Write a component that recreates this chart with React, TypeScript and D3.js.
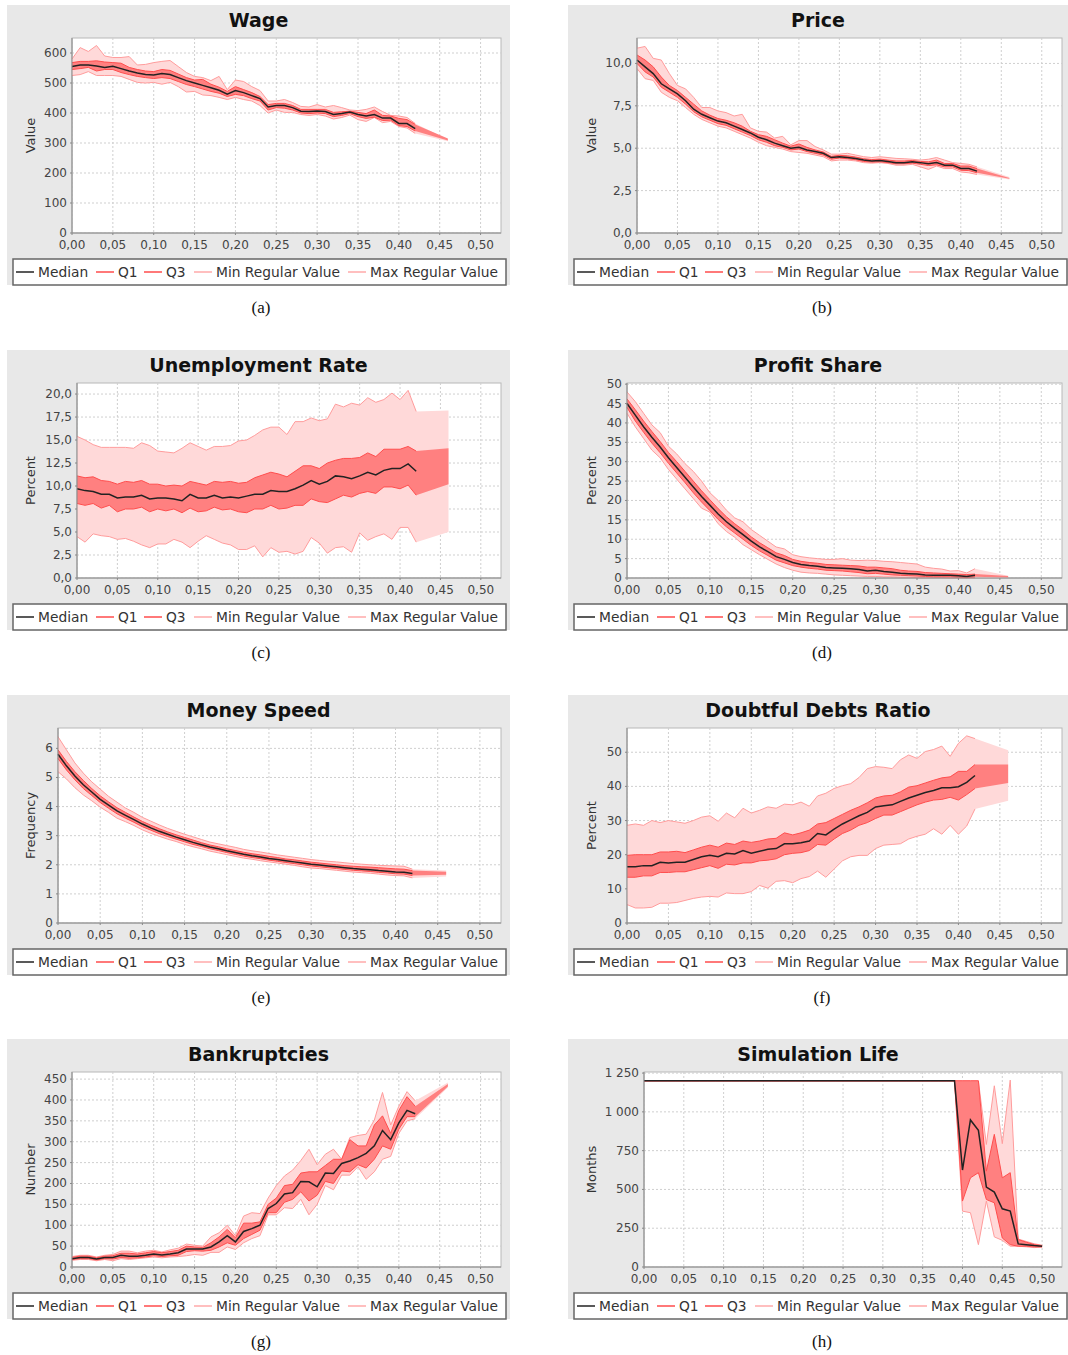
import React from 'react';
import * as d3 from 'd3';

// x positions (parameter values) of the simulation runs
const X_STEPS = [
  0, 0.01, 0.02, 0.03, 0.04, 0.05, 0.06, 0.07, 0.08, 0.09,
  0.1, 0.11, 0.12, 0.13, 0.14, 0.15, 0.16, 0.17, 0.18, 0.19,
  0.2, 0.21, 0.22, 0.23, 0.24, 0.25, 0.26, 0.27, 0.28, 0.29,
  0.3, 0.31, 0.32, 0.33, 0.34, 0.35, 0.36, 0.37, 0.38, 0.39,
  0.4, 0.41, 0.42,
];
const X_BAND = [...X_STEPS, 0.46];
const X_LIFE = [...X_STEPS, 0.43, 0.44, 0.45, 0.46, 0.47, 0.48, 0.49, 0.5];
const X_TICKS = [0, 0.05, 0.1, 0.15, 0.2, 0.25, 0.3, 0.35, 0.4, 0.45, 0.5];
const LEGEND_ITEMS = ['Median', 'Q1', 'Q3', 'Min Regular Value', 'Max Regular Value'];

// (a) Wage
const wageMedian = [555, 560, 560, 557, 552, 556, 548, 540, 533, 528, 527, 532, 528, 518, 508, 500, 492, 484, 476, 463, 475, 468, 458, 448, 420, 425, 425, 418, 406, 405, 407, 405, 395, 398, 403, 395, 390, 395, 383, 383, 365, 365, 348];
const wageQ3 = [568, 572, 572, 574, 570, 568, 566, 552, 545, 540, 538, 545, 542, 530, 518, 510, 512, 496, 486, 472, 488, 478, 468, 455, 428, 432, 432, 425, 412, 412, 412, 412, 402, 404, 406, 402, 398, 410, 392, 390, 382, 378, 362, 315];
const wageQ1 = [545, 548, 552, 540, 545, 545, 535, 528, 522, 518, 515, 518, 515, 505, 495, 488, 480, 472, 466, 455, 462, 458, 448, 440, 410, 418, 416, 410, 400, 398, 400, 398, 388, 392, 398, 388, 382, 386, 375, 376, 358, 355, 340, 308];
const wageMax = [580, 618, 605, 625, 590, 585, 585, 588, 560, 562, 568, 572, 575, 555, 535, 522, 518, 508, 522, 478, 510, 505, 488, 475, 440, 440, 445, 435, 422, 420, 428, 420, 425, 418, 410, 408, 412, 420, 405, 392, 390, 385, 365, 312];
const wageMin = [525, 528, 538, 525, 525, 525, 522, 512, 502, 500, 502, 496, 502, 488, 470, 472, 460, 458, 452, 445, 452, 445, 440, 425, 400, 410, 402, 402, 395, 392, 395, 390, 380, 385, 393, 378, 372, 385, 368, 372, 355, 350, 332, 306];
const wageTicks = [0, 100, 200, 300, 400, 500, 600];

// (b) Price
const priceMedian = [10.2, 9.8, 9.4, 8.8, 8.5, 8.2, 7.8, 7.3, 7.0, 6.8, 6.6, 6.5, 6.3, 6.1, 5.9, 5.65, 5.5, 5.3, 5.15, 5.0, 5.05, 4.9, 4.8, 4.7, 4.45, 4.5, 4.45, 4.4, 4.3, 4.25, 4.28, 4.22, 4.15, 4.15, 4.2, 4.15, 4.08, 4.15, 4.0, 4.0, 3.8, 3.8, 3.65];
const priceQ3 = [10.5, 10.2, 9.8, 9.2, 8.7, 8.4, 8.0, 7.6, 7.2, 6.95, 6.75, 6.65, 6.5, 6.3, 6.0, 5.8, 5.7, 5.5, 5.3, 5.12, 5.25, 5.05, 4.9, 4.78, 4.52, 4.58, 4.55, 4.48, 4.38, 4.33, 4.36, 4.3, 4.25, 4.25, 4.28, 4.22, 4.2, 4.3, 4.1, 4.1, 3.95, 3.95, 3.8, 3.25];
const priceQ1 = [10.0, 9.5, 9.2, 8.6, 8.3, 8.0, 7.6, 7.15, 6.85, 6.65, 6.45, 6.35, 6.15, 5.95, 5.75, 5.5, 5.35, 5.15, 5.05, 4.9, 4.95, 4.8, 4.7, 4.6, 4.35, 4.42, 4.38, 4.32, 4.22, 4.18, 4.2, 4.15, 4.08, 4.08, 4.12, 4.05, 3.98, 4.02, 3.9, 3.9, 3.7, 3.68, 3.55, 3.2];
const priceMax = [10.9, 11.0, 10.3, 10.2, 9.4, 8.7, 8.5, 8.0, 7.4, 7.4, 7.2, 7.1, 6.9, 7.0, 6.2, 6.0, 5.95, 5.6, 5.7, 5.2, 5.45, 5.45, 5.1, 4.9, 4.65, 4.65, 4.7, 4.6, 4.5, 4.45, 4.5, 4.45, 4.4, 4.38, 4.35, 4.3, 4.35, 4.45, 4.3, 4.15, 4.1, 4.05, 3.9, 3.3];
const priceMin = [9.7, 9.1, 9.0, 8.3, 8.0, 7.8, 7.4, 7.0, 6.7, 6.5, 6.3, 6.2, 6.0, 5.8, 5.6, 5.35, 5.15, 5.05, 4.95, 4.8, 4.75, 4.7, 4.6, 4.5, 4.25, 4.3, 4.3, 4.25, 4.15, 4.12, 4.15, 4.1, 4.0, 4.0, 4.05, 3.9, 3.75, 3.95, 3.8, 3.8, 3.6, 3.55, 3.45, 3.15];
const priceTicks = [0, 2.5, 5, 7.5, 10];

// (c) Unemployment Rate
const unempMedian = [9.7, 9.5, 9.4, 9.1, 9.1, 8.7, 8.8, 8.8, 9.0, 8.6, 8.7, 8.7, 8.6, 8.4, 9.1, 8.7, 8.7, 9.0, 8.7, 8.8, 8.7, 8.9, 9.1, 9.1, 9.5, 9.4, 9.4, 9.7, 10.1, 10.6, 10.2, 10.5, 11.1, 11.0, 10.8, 11.1, 11.5, 11.2, 11.7, 11.9, 11.9, 12.4, 11.6];
const unempQ3 = [11.1, 10.9, 11.0, 10.6, 10.5, 10.2, 10.5, 10.4, 10.6, 10.2, 10.2, 10.0, 10.1, 10.0, 10.5, 10.3, 10.1, 10.5, 10.4, 10.5, 10.3, 10.4, 10.9, 11.2, 11.5, 11.3, 11.0, 11.6, 12.2, 12.2, 11.9, 12.5, 12.8, 13.0, 13.0, 13.1, 13.6, 13.2, 14.0, 14.0, 14.0, 14.3, 13.8, 14.1];
const unempQ1 = [8.1, 7.9, 8.1, 7.6, 7.9, 7.2, 7.5, 7.5, 7.7, 7.2, 7.5, 7.3, 7.5, 7.1, 7.6, 7.2, 7.3, 7.7, 7.4, 7.5, 7.2, 7.1, 7.5, 7.5, 7.9, 7.5, 7.6, 7.9, 7.9, 8.6, 8.3, 8.2, 8.6, 9.0, 8.8, 9.2, 9.4, 9.2, 9.9, 9.9, 9.7, 10.1, 9.0, 10.2];
const unempMax = [15.4, 15.0, 14.5, 14.2, 14.2, 14.2, 14.2, 14.1, 14.7, 14.4, 13.8, 13.7, 13.6, 14.1, 14.7, 14.3, 13.9, 14.3, 14.3, 14.4, 14.9, 15.0, 15.5, 16.1, 16.4, 16.4, 15.6, 17.0, 17.0, 17.4, 17.1, 17.3, 18.9, 18.6, 19.0, 18.8, 19.6, 19.1, 19.4, 20.1, 19.4, 20.4, 18.1, 18.2];
const unempMin = [4.5, 3.9, 4.8, 4.6, 4.5, 4.2, 4.3, 4.0, 3.6, 3.3, 3.7, 3.7, 4.2, 3.9, 3.3, 4.0, 4.6, 4.2, 3.8, 3.6, 3.1, 3.1, 3.5, 2.3, 3.3, 2.8, 2.9, 2.6, 2.9, 4.4, 3.8, 2.7, 3.3, 3.4, 2.8, 4.9, 4.1, 4.5, 4.8, 4.2, 5.5, 5.5, 3.9, 5.0];
const unempTicks = [0, 2.5, 5, 7.5, 10, 12.5, 15, 17.5, 20];

// (d) Profit Share
const profitMedian = [45, 42, 39, 36.3, 33.8, 31, 28.5, 26, 23.5, 21, 18.8, 16.5, 14.5, 12.8, 11.2, 9.5, 8, 6.8, 5.5, 4.8, 4.0, 3.5, 3.2, 3.0, 2.7, 2.6, 2.5, 2.4, 2.2, 1.8, 2.0, 1.7, 1.5, 1.2, 1.1, 1.0, 0.8, 0.7, 0.7, 0.7, 0.6, 0.4, 0.7];
const profitQ3 = [46.2, 43.4, 40.5, 37.8, 35.2, 32.4, 30, 27.5, 25, 22.5, 20.2, 17.9, 15.8, 14, 12.4, 10.6, 9.1, 7.8, 6.5, 5.8, 4.8, 4.3, 4.0, 3.8, 3.5, 3.4, 3.3, 3.2, 3.1, 2.8, 2.8, 2.6, 2.4, 2.0, 1.8, 1.7, 1.4, 1.3, 1.2, 1.1, 1.0, 0.9, 1.0, 0.5];
const profitQ1 = [44, 40.5, 37.6, 34.8, 32.3, 29.6, 27.1, 24.6, 22, 19.6, 17.4, 15.1, 13.2, 11.6, 10, 8.4, 7, 5.8, 4.6, 3.9, 3.2, 2.8, 2.5, 2.3, 2.0, 1.9, 1.8, 1.6, 1.4, 1.1, 1.2, 1.0, 0.8, 0.7, 0.6, 0.5, 0.4, 0.3, 0.3, 0.3, 0.2, 0.1, 0.3, 0.1];
const profitMax = [48, 45.5, 42.5, 39.5, 37.5, 34, 32, 29.5, 27.5, 25, 22, 20, 17.5, 15.5, 14.5, 12.5, 11, 9.5, 8, 7.5, 6, 5.5, 5.2, 5, 4.8, 4.8, 5.0, 4.6, 4.5, 4.6, 4.5, 4.3, 4.2, 4.0, 3.8, 3.6, 2.8, 2.5, 2.3, 1.8, 1.9, 1.3, 2.4, 0.6];
const profitMin = [42.5, 39, 36, 33, 31, 28, 25.5, 23, 20.5, 18, 17, 14, 12, 10.5, 8.6, 7.3, 6, 4.8, 3.6, 2.7, 2.0, 1.5, 1.3, 1.2, 1.0, 0.8, 0.7, 0.6, 0.5, 0.4, 0.4, 0.3, 0.3, 0.2, 0.2, 0.1, 0.1, 0.1, 0.1, 0.0, 0.0, 0.0, 0.0, 0.0];
const profitTicks = [0, 5, 10, 15, 20, 25, 30, 35, 40, 45, 50];

// (e) Money Speed
const moneyMedian = [5.8, 5.4, 5.05, 4.75, 4.5, 4.25, 4.05, 3.85, 3.7, 3.55, 3.4, 3.27, 3.15, 3.05, 2.95, 2.86, 2.77, 2.69, 2.61, 2.55, 2.48, 2.42, 2.36, 2.31, 2.27, 2.22, 2.18, 2.14, 2.1, 2.06, 2.02, 1.99, 1.96, 1.93, 1.9, 1.87, 1.85, 1.83, 1.8, 1.78, 1.75, 1.74, 1.7];
const moneyQ3 = [5.95, 5.55, 5.2, 4.9, 4.62, 4.37, 4.16, 3.96, 3.8, 3.64, 3.49, 3.36, 3.24, 3.13, 3.03, 2.94, 2.85, 2.76, 2.68, 2.62, 2.55, 2.49, 2.43, 2.38, 2.34, 2.29, 2.25, 2.2, 2.17, 2.13, 2.09, 2.06, 2.03, 2.0, 1.97, 1.95, 1.93, 1.92, 1.9, 1.88, 1.86, 1.85, 1.8, 1.76];
const moneyQ1 = [5.65, 5.26, 4.92, 4.62, 4.38, 4.14, 3.94, 3.75, 3.6, 3.46, 3.31, 3.19, 3.07, 2.97, 2.88, 2.79, 2.7, 2.63, 2.55, 2.49, 2.42, 2.36, 2.3, 2.25, 2.21, 2.16, 2.12, 2.08, 2.04, 2.0, 1.96, 1.93, 1.9, 1.87, 1.84, 1.81, 1.79, 1.77, 1.74, 1.72, 1.69, 1.68, 1.63, 1.66];
const moneyMax = [6.4, 5.95, 5.5, 5.15, 4.85, 4.6, 4.35, 4.15, 3.95, 3.8, 3.63, 3.5, 3.37, 3.25, 3.15, 3.05, 2.96, 2.87, 2.78, 2.72, 2.66, 2.6, 2.53, 2.48, 2.44, 2.39, 2.34, 2.3, 2.26, 2.22, 2.18, 2.15, 2.12, 2.1, 2.07, 2.04, 2.02, 2.0, 1.98, 1.97, 1.96, 1.95, 1.85, 1.8];
const moneyMin = [5.2, 4.95, 4.65, 4.4, 4.2, 3.98, 3.8, 3.6, 3.48, 3.35, 3.2, 3.08, 2.98, 2.88, 2.8, 2.7, 2.62, 2.55, 2.47, 2.41, 2.35, 2.29, 2.23, 2.19, 2.14, 2.1, 2.06, 2.02, 1.98, 1.93, 1.89, 1.87, 1.84, 1.81, 1.78, 1.75, 1.73, 1.71, 1.68, 1.65, 1.63, 1.62, 1.55, 1.6];
const moneyTicks = [0, 1, 2, 3, 4, 5, 6];

// (f) Doubtful Debts Ratio
const debtMedian = [16.5, 16.5, 16.8, 16.8, 17.8, 17.6, 17.8, 17.8, 18.6, 19.4, 19.8, 19.4, 20.4, 20.2, 21.2, 20.4, 21.0, 21.6, 21.8, 23.2, 23.2, 23.5, 24.0, 26.2, 25.8, 27.5, 29.0, 30.2, 31.4, 32.4, 34.0, 34.3, 34.6, 35.6, 36.6, 37.4, 38.2, 38.8, 39.6, 39.6, 39.9, 41.2, 43.2];
const debtQ3 = [19.8, 20.0, 20.0, 20.0, 20.8, 20.8, 21.0, 20.6, 21.4, 22.2, 22.8, 22.2, 23.4, 23.0, 24.0, 23.6, 24.0, 24.6, 24.8, 26.4, 25.8, 26.4, 27.2, 29.0, 29.4, 30.6, 31.8, 33.0, 34.0, 35.2, 36.6, 37.2, 37.4, 38.4, 39.8, 40.2, 41.0, 41.8, 42.5, 42.8, 44.4, 44.4, 46.4, 46.4];
const debtQ1 = [13.4, 13.4, 13.8, 13.8, 14.8, 14.8, 15.0, 15.0, 15.6, 16.2, 16.8, 16.0, 17.2, 17.0, 17.6, 17.6, 18.2, 18.4, 18.8, 20.0, 20.4, 20.6, 21.2, 23.0, 22.8, 24.6, 26.2, 27.2, 28.6, 29.4, 30.6, 31.6, 31.6, 32.6, 33.6, 34.6, 35.4, 36.0, 36.2, 36.8, 36.0, 37.6, 39.4, 41.0];
const debtMax = [28.6, 29.0, 28.6, 30.0, 29.4, 30.0, 29.6, 29.2, 30.0, 31.0, 31.4, 29.8, 32.2, 30.8, 33.6, 32.2, 33.0, 34.0, 33.6, 34.8, 34.6, 35.4, 34.2, 37.2, 38.0, 39.4, 40.2, 40.8, 42.6, 45.2, 45.8, 45.6, 45.2, 47.8, 49.2, 48.2, 50.2, 50.8, 51.8, 48.8, 52.6, 54.8, 54.0, 50.6];
const debtMin = [5.4, 4.4, 4.4, 4.6, 5.8, 5.8, 6.0, 6.6, 7.2, 7.6, 7.8, 7.6, 8.8, 8.6, 8.6, 9.2, 11.0, 10.2, 12.2, 12.4, 11.8, 13.0, 13.6, 15.2, 13.4, 15.8, 18.2, 19.4, 19.8, 19.8, 21.8, 22.8, 23.0, 23.2, 24.6, 25.4, 26.0, 27.6, 26.0, 28.6, 26.0, 28.4, 33.4, 35.8];
const debtTicks = [0, 10, 20, 30, 40, 50];

// (g) Bankruptcies
const bankMedian = [20, 23, 23, 19, 23, 23, 28, 26, 26, 28, 31, 29, 31, 34, 43, 43, 43, 48, 60, 75, 60, 85, 92, 100, 140, 152, 175, 178, 205, 204, 192, 225, 224, 248, 254, 262, 272, 290, 327, 305, 345, 375, 367];
const bankQ3 = [23, 26, 26, 22, 26, 27, 33, 33, 31, 34, 37, 34, 37, 40, 50, 48, 47, 58, 72, 90, 70, 105, 105, 108, 150, 165, 195, 198, 225, 228, 228, 243, 258, 258, 305, 290, 290, 340, 362, 320, 375, 408, 385, 438];
const bankQ1 = [18, 20, 20, 17, 20, 19, 23, 21, 22, 24, 27, 25, 27, 28, 37, 39, 38, 40, 48, 58, 52, 68, 78, 88, 130, 130, 155, 162, 180, 158, 172, 205, 200, 230, 228, 245, 237, 258, 290, 282, 330, 360, 360, 432];
const bankMax = [25, 28, 28, 24, 28, 30, 38, 38, 34, 38, 40, 36, 41, 45, 55, 52, 50, 72, 82, 100, 75, 122, 130, 128, 165, 195, 218, 232, 255, 282, 245, 270, 282, 258, 310, 315, 318, 352, 418, 340, 385, 420, 398, 442];
const bankMin = [16, 18, 18, 15, 18, 15, 20, 18, 20, 22, 24, 22, 24, 25, 27, 30, 28, 35, 35, 48, 42, 58, 68, 75, 125, 125, 142, 140, 162, 125, 150, 195, 185, 220, 220, 240, 210, 228, 258, 265, 320, 350, 355, 430];
const bankTicks = [0, 50, 100, 150, 200, 250, 300, 350, 400, 450];

// (h) Simulation Life
const lifeMedian = [
  1200, 1200, 1200, 1200, 1200, 1200, 1200, 1200, 1200, 1200,
  1200, 1200, 1200, 1200, 1200, 1200, 1200, 1200, 1200, 1200,
  1200, 1200, 1200, 1200, 1200, 1200, 1200, 1200, 1200, 1200,
  1200, 1200, 1200, 1200, 1200, 1200, 1200, 1200, 1200, 1200,
  625, 948, 881, 515, 483, 375, 360, 149, 144, 138, 134,
];
const lifeQ3 = [
  1200, 1200, 1200, 1200, 1200, 1200, 1200, 1200, 1200, 1200,
  1200, 1200, 1200, 1200, 1200, 1200, 1200, 1200, 1200, 1200,
  1200, 1200, 1200, 1200, 1200, 1200, 1200, 1200, 1200, 1200,
  1200, 1200, 1200, 1200, 1200, 1200, 1200, 1200, 1200, 1200,
  1200, 1200, 1200, 618, 855, 575, 608, 177, 160, 145, 138,
];
const lifeQ1 = [
  1200, 1200, 1200, 1200, 1200, 1200, 1200, 1200, 1200, 1200,
  1200, 1200, 1200, 1200, 1200, 1200, 1200, 1200, 1200, 1200,
  1200, 1200, 1200, 1200, 1200, 1200, 1200, 1200, 1200, 1200,
  1200, 1200, 1200, 1200, 1200, 1200, 1200, 1200, 1200, 1200,
  425, 575, 608, 435, 414, 187, 144, 134, 134, 130, 130,
];
const lifeMax = [
  1200, 1200, 1200, 1200, 1200, 1200, 1200, 1200, 1200, 1200,
  1200, 1200, 1200, 1200, 1200, 1200, 1200, 1200, 1200, 1200,
  1200, 1200, 1200, 1200, 1200, 1200, 1200, 1200, 1200, 1200,
  1200, 1200, 1200, 1200, 1200, 1200, 1200, 1200, 1200, 1200,
  1200, 1200, 1200, 790, 1168, 795, 1205, 180, 165, 150, 140,
];
const lifeMin = [
  1200, 1200, 1200, 1200, 1200, 1200, 1200, 1200, 1200, 1200,
  1200, 1200, 1200, 1200, 1200, 1200, 1200, 1200, 1200, 1200,
  1200, 1200, 1200, 1200, 1200, 1200, 1200, 1200, 1200, 1200,
  1200, 1200, 1200, 1200, 1200, 1200, 1200, 1200, 1200, 1200,
  360, 350, 144, 425, 194, 172, 134, 134, 130, 125, 128,
];
const lifeTicks = [0, 250, 500, 750, 1000, 1250];

const locale = d3.formatLocale({ decimal: ',', thousands: ' ', grouping: [3], currency: ['', ''] });
const fmtX = locale.format('.2f');

const PANELS = [
  { id: 'a', title: 'Wage', label: 'Value', col: 0, row: 0, left: 72, yMax: 650, ticks: wageTicks, fmt: ',.0f', xs: X_BAND, median: wageMedian, q1: wageQ1, q3: wageQ3, min: wageMin, max: wageMax },
  { id: 'b', title: 'Price', label: 'Value', col: 1, row: 0, left: 637, yMax: 11.5, ticks: priceTicks, fmt: '.1f', xs: X_BAND, median: priceMedian, q1: priceQ1, q3: priceQ3, min: priceMin, max: priceMax },
  { id: 'c', title: 'Unemployment Rate', label: 'Percent', col: 0, row: 1, left: 77, yMax: 21.2, ticks: unempTicks, fmt: '.1f', xs: X_BAND, median: unempMedian, q1: unempQ1, q3: unempQ3, min: unempMin, max: unempMax },
  { id: 'd', title: 'Profit Share', label: 'Percent', col: 1, row: 1, left: 627, yMax: 50.3, ticks: profitTicks, fmt: ',.0f', xs: X_BAND, median: profitMedian, q1: profitQ1, q3: profitQ3, min: profitMin, max: profitMax },
  { id: 'e', title: 'Money Speed', label: 'Frequency', col: 0, row: 2, left: 58, yMax: 6.7, ticks: moneyTicks, fmt: ',.0f', xs: X_BAND, median: moneyMedian, q1: moneyQ1, q3: moneyQ3, min: moneyMin, max: moneyMax },
  { id: 'f', title: 'Doubtful Debts Ratio', label: 'Percent', col: 1, row: 2, left: 627, yMax: 57.1, ticks: debtTicks, fmt: ',.0f', xs: X_BAND, median: debtMedian, q1: debtQ1, q3: debtQ3, min: debtMin, max: debtMax },
  { id: 'g', title: 'Bankruptcies', label: 'Number', col: 0, row: 3, left: 72, yMax: 467, ticks: bankTicks, fmt: ',.0f', xs: X_BAND, median: bankMedian, q1: bankQ1, q3: bankQ3, min: bankMin, max: bankMax },
  { id: 'h', title: 'Simulation Life', label: 'Months', col: 1, row: 3, left: 644, yMax: 1257, ticks: lifeTicks, fmt: ',.0f', xs: X_LIFE, median: lifeMedian, q1: lifeQ1, q3: lifeQ3, min: lifeMin, max: lifeMax },
];

const ROW_TOP = [5, 350, 695, 1039];
const FONT = "'DejaVu Sans', sans-serif";
const LIGHT_FILL = '#ffd9d9';
const DARK_FILL = '#ff8080';
const Q_LINE = '#ff4d4d';
const MM_LINE = '#ff9c9c';

function Panel({ p }) {
  const top = ROW_TOP[p.row];
  const gx0 = p.col === 0 ? 7 : 568;
  const gx1 = p.col === 0 ? 510 : 1068;
  const right = p.col === 0 ? 501 : 1062;
  const plotTop = top + 33;
  const plotBottom = top + 228;
  const legX = p.col === 0 ? 13 : 574;
  const legY = top + 254;

  const x = d3.scaleLinear().domain([0, 0.525]).range([p.left, right]);
  const y = d3.scaleLinear().domain([0, p.yMax]).range([plotBottom, plotTop]);
  const fmtY = locale.format(p.fmt);

  const band = (lo, hi) =>
    d3.area<number>()
      .x((_, i) => x(p.xs[i]))
      .y0((_, i) => y(lo[i]))
      .y1(d => y(d))(hi);

  const n = p.median.length;
  const edge = vals =>
    d3.line<number>()
      .x((_, i) => x(p.xs[i]))
      .y(d => y(d))(vals.slice(0, n));

  const midY = (plotTop + plotBottom) / 2;
  const labelX = p.col === 0 ? 30 : 591;
  const textOffsets = [25, 105, 153, 203, 357];
  const legendColors = ['#222', Q_LINE, Q_LINE, '#ffaaaa', '#ffaaaa'];

  return (
    <g>
      <rect x={gx0} y={top} width={gx1 - gx0} height={280} fill="#e8e8e8" />
      <text x={(gx0 + gx1) / 2} y={top + 22} textAnchor="middle" fontFamily={FONT}
        fontWeight="bold" fontSize={19} fill="#111">{p.title}</text>

      <rect x={p.left} y={plotTop} width={right - p.left} height={plotBottom - plotTop}
        fill="#fff" stroke="#b8b8b8" strokeWidth={1} />

      {X_TICKS.map(t => (
        <line key={'gx' + t} x1={x(t)} x2={x(t)} y1={plotTop} y2={plotBottom}
          stroke="#cfcfcf" strokeDasharray="2,2" strokeWidth={1} />
      ))}
      {p.ticks.map(t => (
        <line key={'gy' + t} x1={p.left} x2={right} y1={y(t)} y2={y(t)}
          stroke="#cfcfcf" strokeDasharray="2,2" strokeWidth={1} />
      ))}

      <path d={band(p.min, p.max)} fill={LIGHT_FILL} />
      <path d={band(p.q1, p.q3)} fill={DARK_FILL} />
      <path d={edge(p.min)} fill="none" stroke={MM_LINE} strokeWidth={1} />
      <path d={edge(p.max)} fill="none" stroke={MM_LINE} strokeWidth={1} />
      <path d={edge(p.q1)} fill="none" stroke={Q_LINE} strokeWidth={1} />
      <path d={edge(p.q3)} fill="none" stroke={Q_LINE} strokeWidth={1} />
      <path d={edge(p.median)} fill="none" stroke="#222" strokeWidth={1.5} />

      <line x1={p.left} x2={p.left} y1={plotTop} y2={plotBottom} stroke="#888" />
      <line x1={p.left} x2={right} y1={plotBottom} y2={plotBottom} stroke="#888" />

      {X_TICKS.map(t => (
        <g key={'xt' + t}>
          <line x1={x(t)} x2={x(t)} y1={plotBottom} y2={plotBottom + 2} stroke="#888" />
          <text x={x(t)} y={plotBottom + 16} textAnchor="middle" fontFamily={FONT}
            fontSize={12} fill="#444">{fmtX(t)}</text>
        </g>
      ))}
      {p.ticks.map(t => (
        <g key={'yt' + t}>
          <line x1={p.left - 2} x2={p.left} y1={y(t)} y2={y(t)} stroke="#888" />
          <text x={p.left - 5} y={y(t) + 4} textAnchor="end" fontFamily={FONT}
            fontSize={12} fill="#444">{fmtY(t)}</text>
        </g>
      ))}

      <text transform={`translate(${labelX},${midY}) rotate(-90)`} textAnchor="middle"
        dy="0.35em" fontFamily={FONT} fontSize={13} fill="#333">{p.label}</text>

      <rect x={legX} y={legY} width={493} height={26} fill="#fff" stroke="#666" strokeWidth={1.5} />
      {LEGEND_ITEMS.map((name, i) => (
        <g key={name}>
          <line x1={legX + textOffsets[i] - 22} x2={legX + textOffsets[i] - 4}
            y1={legY + 13} y2={legY + 13} stroke={legendColors[i]} strokeWidth={1.5} />
          <text x={legX + textOffsets[i]} y={legY + 18} fontFamily={FONT} fontSize={13.8}
            fill="#333">{name}</text>
        </g>
      ))}

      <text x={p.col === 0 ? 261 : 822} y={top + 308} textAnchor="middle"
        fontFamily="'Liberation Serif', serif" fontSize={17} fill="#111">({p.id})</text>
    </g>
  );
}

export default function App() {
  return (
    <svg width={1068} height={1355} style={{ position: 'absolute', left: 0, top: 0, background: '#fff' }}>
      {PANELS.map(p => <Panel key={p.id} p={p} />)}
    </svg>
  );
}
